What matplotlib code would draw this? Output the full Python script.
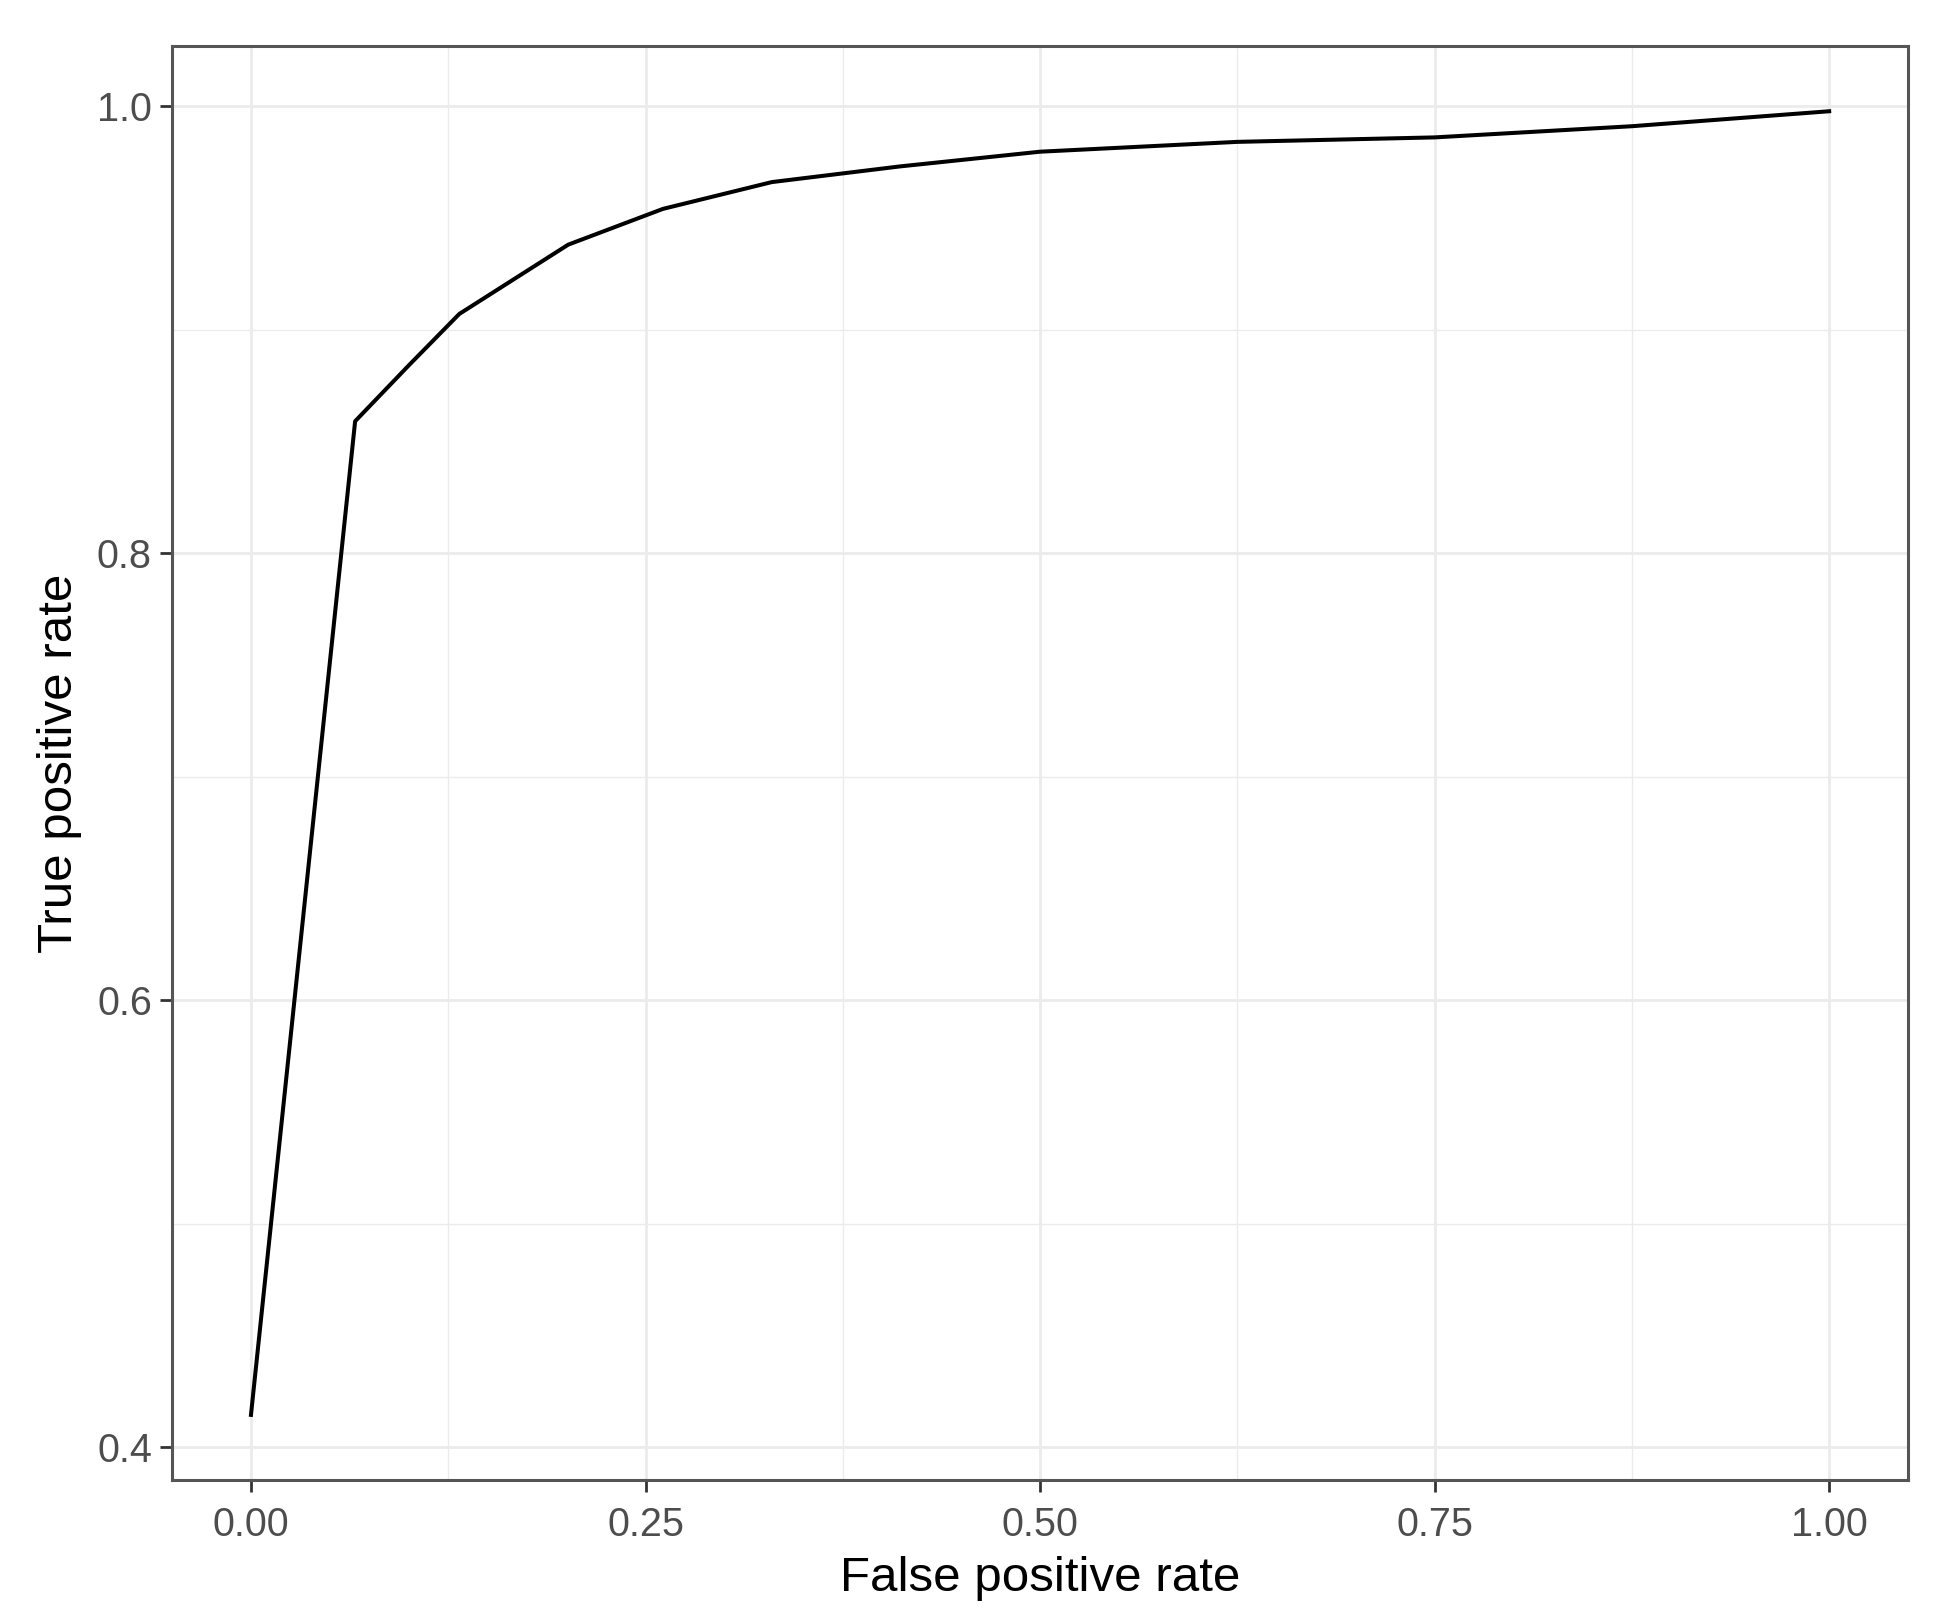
import matplotlib
matplotlib.use("Agg")
import matplotlib.pyplot as plt
from matplotlib.ticker import FixedLocator

plt.rcParams['font.family'] = ['Liberation Sans', 'DejaVu Sans']

fpr = [0.0, 0.066, 0.100, 0.132, 0.201, 0.261, 0.330, 0.411, 0.500, 0.625, 0.750, 0.875, 1.000]
tpr = [0.4144, 0.859, 0.884, 0.907, 0.938, 0.954, 0.966, 0.973, 0.9796, 0.984, 0.986, 0.991, 0.9977]

x_ticks = [0.0, 0.25, 0.5, 0.75, 1.0]
x_tick_labels = ["0.00", "0.25", "0.50", "0.75", "1.00"]
x_minor = [0.125, 0.375, 0.625, 0.875]
y_ticks = [0.4, 0.6, 0.8, 1.0]
y_tick_labels = ["0.4", "0.6", "0.8", "1.0"]
y_minor = [0.5, 0.7, 0.9]

fig = plt.figure(figsize=(19.53, 16.22), dpi=100)
ax = fig.add_axes([0.0881, 0.0875, 0.977 - 0.0881, 0.9716 - 0.0875])

ax.plot(fpr, tpr, color='black', lw=2.9, solid_joinstyle='round')

xr = max(fpr) - min(fpr)
yr = max(tpr) - min(tpr)
ax.set_xlim(min(fpr) - 0.05 * xr, max(fpr) + 0.05 * xr)
ax.set_ylim(min(tpr) - 0.05 * yr, max(tpr) + 0.05 * yr)

ax.set_xticks(x_ticks)
ax.set_xticklabels(x_tick_labels)
ax.set_yticks(y_ticks)
ax.set_yticklabels(y_tick_labels)
ax.xaxis.set_minor_locator(FixedLocator(x_minor))
ax.yaxis.set_minor_locator(FixedLocator(y_minor))

ax.grid(True, which='major', color='#EBEBEB', lw=2.0)
ax.grid(True, which='minor', color='#EBEBEB', lw=1.0)
ax.set_axisbelow(True)

for s in ax.spines.values():
    s.set_color('#555555')
    s.set_linewidth(2.2)

ax.tick_params(axis='both', which='major', length=8.5, width=2.0, color='#333333',
               labelsize=28.5, labelcolor='#4D4D4D')
ax.tick_params(axis='x', which='major', pad=10)
ax.tick_params(axis='y', which='major', pad=6)
ax.tick_params(which='minor', length=0)

ax.set_xlabel("False positive rate", fontsize=35.5, color='black')
ax.set_ylabel("True positive rate", fontsize=35.5, color='black')
ax.xaxis.set_label_coords(0.5, -0.053)
ax.yaxis.set_label_coords(-0.0518, 0.5)

fig.savefig("out.png", dpi=100, facecolor='white')
